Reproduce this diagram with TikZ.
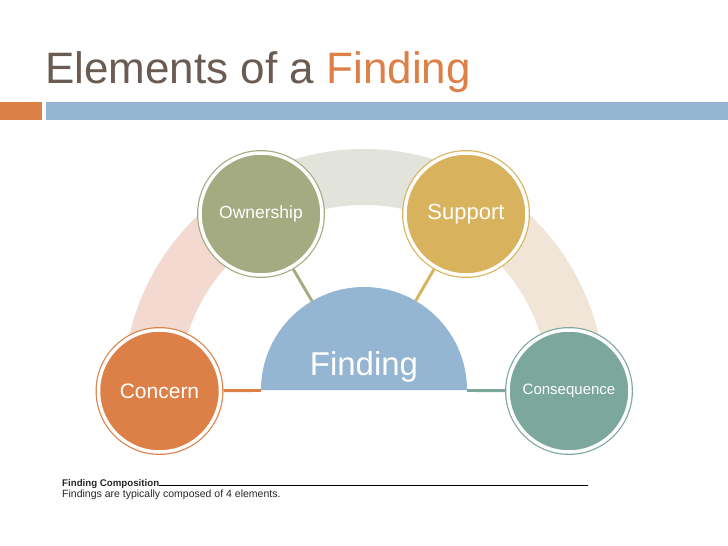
\documentclass[tikz,border=0pt]{standalone}
\usepackage{fontspec}
\setmainfont{Liberation Sans}
\usepackage{xcolor}
\usetikzlibrary{calc}

\definecolor{titlegray}{HTML}{6B5C53}
\definecolor{accorange}{HTML}{DD8047}
\definecolor{accblue}{HTML}{94B6D2}
\definecolor{accgreen}{HTML}{A5AB81}
\definecolor{accgold}{HTML}{D8B25C}
\definecolor{accteal}{HTML}{7BA79D}
\definecolor{bandpink}{HTML}{F3D9D0}
\definecolor{bandgray}{HTML}{E2E4DC}
\definecolor{bandbeige}{HTML}{F0E5D7}

\begin{document}
\begin{tikzpicture}[
    x=1pt, y=1pt,
    element/.style={
        circle, minimum size=122, inner sep=0, outer sep=3pt,
        line width=1.2pt, double=white, double distance=3.5pt,
        text=white
    },
    link/.style={line width=2.9pt},
    caption/.style={anchor=base west, inner sep=0, text=black!85}
]
\useasboundingbox (0,0) rectangle (728,-546);

% Header
\node[anchor=base west, inner sep=0, font=\fontsize{44}{50}\selectfont, text=titlegray] (title) at (45,-83)
    {Elements of a \textcolor{accorange}{Finding}};
\fill[accorange] (0,-102) rectangle (42,-120);
\fill[accblue] (46,-102) rectangle (728,-120);

% Band behind the elements
\coordinate (fc) at (364,-390);
\fill[bandpink] ($(fc)+(180:241)$) arc[start angle=180, end angle=120, radius=241]
    -- ($(fc)+(120:185)$) arc[start angle=120, end angle=180, radius=185] -- cycle;
\fill[bandgray] ($(fc)+(120:241)$) arc[start angle=120, end angle=60, radius=241]
    -- ($(fc)+(60:185)$) arc[start angle=60, end angle=120, radius=185] -- cycle;
\fill[bandbeige] ($(fc)+(60:241)$) arc[start angle=60, end angle=0, radius=241]
    -- ($(fc)+(0:185)$) arc[start angle=0, end angle=60, radius=185] -- cycle;

% Nodes
\node[circle, minimum size=206, inner sep=0, outer sep=0] (find) at (fc) {};
\fill[accblue] (find.west) arc[start angle=180, end angle=0, radius=103] -- cycle;
\node[anchor=base, inner sep=0, text=white, font=\fontsize{33}{36}\selectfont] (findtext) at (364,-375) {Finding};

\node[element, fill=accorange, draw=accorange, font=\fontsize{21}{24}\selectfont] (concern) at (159.5,-391) {Concern};
\node[element, fill=accgreen, draw=accgreen, font=\fontsize{17.5}{20}\selectfont] (own) at (261,-214) {Ownership};
\node[element, fill=accgold, draw=accgold, font=\fontsize{22}{25}\selectfont] (support) at (466,-214) {Support};
\node[element, fill=accteal, draw=accteal, font=\fontsize{15}{18}\selectfont] (conseq) at (569,-391) {Consequence};

% Links to the finding
\draw[link, accorange] (concern) -- (find);
\draw[link, accgreen] (own) -- (find);
\draw[link, accgold] (support) -- (find);
\draw[link, accteal] (conseq) -- (find);

% Caption
\node[caption, font=\fontsize{9.7}{11}\selectfont\bfseries] (comp) at (62,-486) {Finding Composition};
\coordinate (compend) at (588,-485);
\draw[line width=0.9pt] ([yshift=1]comp.base east) -- (compend);
\node[caption, font=\fontsize{10.5}{12}\selectfont] (compnote) at (62,-497) {Findings are typically composed of 4 elements.};

\end{tikzpicture}
\end{document}
